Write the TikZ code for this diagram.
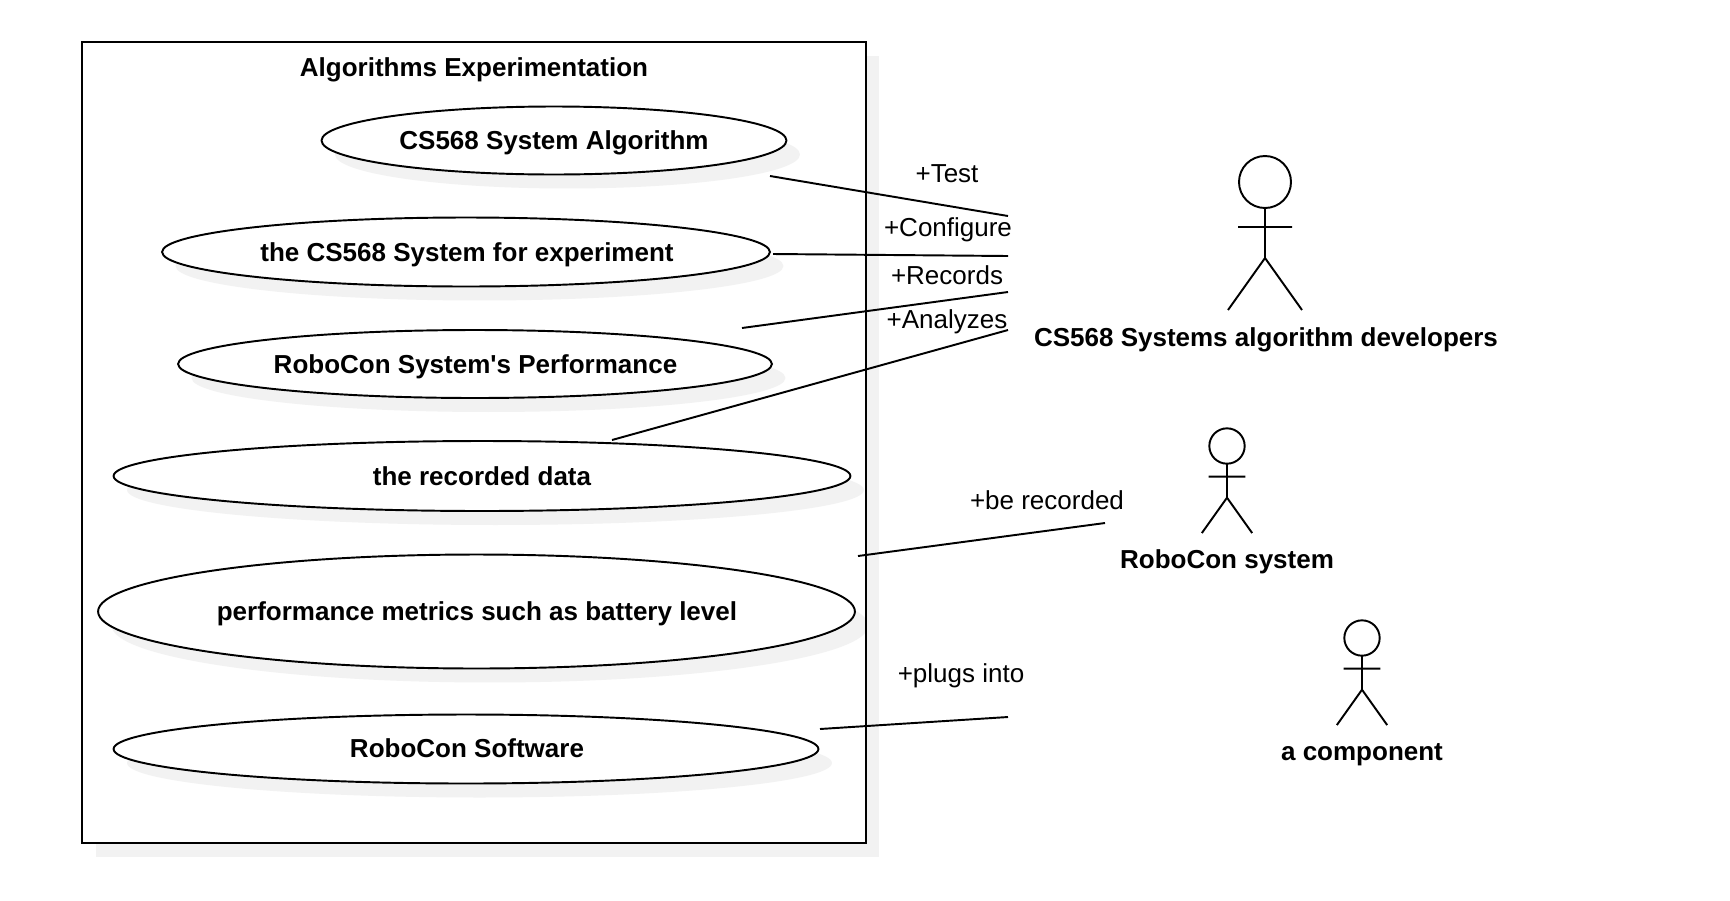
\documentclass[tikz,border=0pt]{standalone}
\usepackage{fontspec}
\setmainfont{Liberation Sans}[Ligatures=TeXOff]
\usetikzlibrary{shapes.geometric, shadows}

\begin{document}
\begin{tikzpicture}[
    x=0.02cm, y=-0.02cm,
    softshadow/.style={drop shadow={shadow xshift=0.27cm, shadow yshift=-0.28cm, fill=black!5, opacity=1}},
    system/.style={rectangle, fill=white, softshadow, minimum width=15.68cm, minimum height=16.02cm},
    usecase/.style={ellipse, draw, line width=1.1pt, fill=white, softshadow, inner sep=0pt},
    heading/.style={font=\fontsize{14.8}{17}\selectfont\bfseries},
    rolename/.style={font=\fontsize{14.8}{17}\selectfont},
    assoc/.style={line width=1.1pt},
    actor/.pic={
        \draw [line width=1.1pt] (0,0) circle (26);
        \draw [line width=1.1pt] (0,26) -- (0,76) (-27,45) -- (27,45) (-37,128) -- (0,76) -- (37,128);
    }
]

\node [system] (box) at (474,442.5) {};
\node [heading] (title) at (474,70) {Algorithms Experimentation};

\node [usecase, minimum width=9.3cm, minimum height=1.36cm] (algorithm) at (554,140.5) {};
\node [usecase, minimum width=12.16cm, minimum height=1.38cm] (experiment) at (466,252) {};
\node [usecase, minimum width=11.88cm, minimum height=1.36cm] (performance) at (475,364) {};
\node [usecase, minimum width=14.74cm, minimum height=1.4cm] (recorded) at (482,476) {};
\node [usecase, minimum width=15.14cm, minimum height=2.28cm] (metrics) at (476.5,611.5) {};
\node [usecase, minimum width=14.1cm, minimum height=1.38cm] (software) at (466,749) {};

% border goes over the shadows
\draw [line width=1.3pt] (box.south west) rectangle (box.north east);

\node [heading] at (554,143) {CS568 System Algorithm};
\node [heading] at (467,255) {the CS568 System for experiment};
\node [heading] at (475.5,367) {RoboCon System's Performance};
\node [heading] at (482,476) {the recorded data};
\node [heading] at (477,614) {performance metrics such as battery level};
\node [heading] at (467,748) {RoboCon Software};

% actors
\pic at (1265,182) {actor};
\pic [scale=0.68] at (1227,446) {actor};
\pic [scale=0.68] at (1362,638) {actor};
\node [heading] (developers) at (1266,340) {CS568 Systems algorithm developers};
\node [heading] (robocon) at (1227,562) {RoboCon system};
\node [heading] (component) at (1362,755) {a component};

% free ends of the associations
\coordinate (testa) at (770,176);
\coordinate (testb) at (1008,216);
\coordinate (configa) at (773,254);
\coordinate (configb) at (1008,256);
\coordinate (recordsa) at (742,328);
\coordinate (recordsb) at (1008,292);
\coordinate (analyzea) at (612,440);
\coordinate (analyzeb) at (1008,330);
\coordinate (bea) at (858,556);
\coordinate (beb) at (1105,523);
\coordinate (plugsa) at (820,729);
\coordinate (plugsb) at (1008,717);

\draw [assoc] (testa) -- (testb);
\draw [assoc] (configa) -- (configb);
\draw [assoc] (recordsa) -- (recordsb);
\draw [assoc] (analyzea) -- (analyzeb);
\draw [assoc] (bea) -- (beb);
\draw [assoc] (plugsa) -- (plugsb);

\node [rolename] (test) at (947,174) {+Test};
\node [rolename] (configure) at (948,230) {+Configure};
\node [rolename] (records) at (947,275) {+Records};
\node [rolename] (analyzes) at (947,322) {+Analyzes};
\node [rolename] (berecorded) at (1047,500) {+be recorded};
\node [rolename] (plugs) at (961,676) {+plugs into};

\useasboundingbox (0,0) rectangle (1730,900);
\end{tikzpicture}
\end{document}
